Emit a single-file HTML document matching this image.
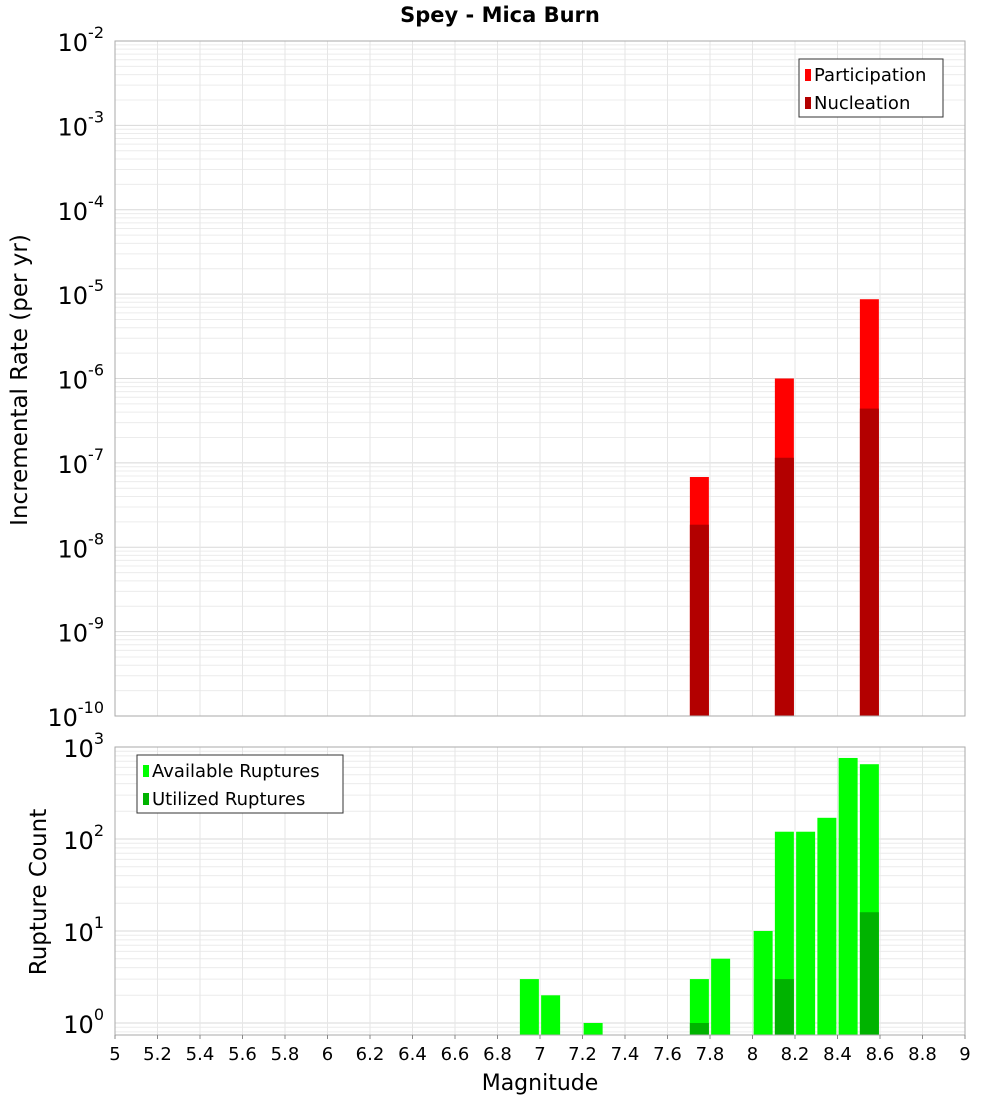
<!DOCTYPE html>
<html><head><meta charset="utf-8"><style>
body{margin:0;background:#fff;font-family:"Liberation Sans","DejaVu Sans",sans-serif}
</style></head><body>
<svg id="c" width="1000" height="1100" xmlns="http://www.w3.org/2000/svg" font-family="DejaVu Sans, Liberation Sans, sans-serif"></svg>
<script>
const bins1=[7.75,8.15,8.55];
const participation=[6.8e-8,1.0e-6,8.7e-6];
const nucleation=[1.85e-8,1.15e-7,4.4e-7];
const bins2=[6.95,7.05,7.25,7.75,7.85,8.05,8.15,8.25,8.35,8.45,8.55];
const available=[3,2,1,3,5,10,120,120,170,760,650];
const ubins=[7.75,8.15,8.55];
const utilized=[1,3,16];
const xticks=[5,5.2,5.4,5.6,5.8,6,6.2,6.4,6.6,6.8,7,7.2,7.4,7.6,7.8,8,8.2,8.4,8.6,8.8,9];

const NS="http://www.w3.org/2000/svg",svg=document.getElementById('c');
function el(t,a,p){const e=document.createElementNS(NS,t);for(const k in a)e.setAttribute(k,a[k]);(p||svg).appendChild(e);return e;}
const X0=115,X1=965;
const x=v=>X0+(v-5)/4*(X1-X0);
const y1=v=>41+(-2-Math.log10(v))*84.375;
const y2=v=>747+(3-Math.log10(v))*92;
const P1={t:41,b:716},P2={t:747,b:1035};
function frame(P,lo,hi,yf){
  const g=el('g',{});
  
  
  for(let d=lo;d<hi;d++)for(let m=1;m<10;m++){const yy=yf(m*Math.pow(10,d));if(yy<P.t||yy>P.b)continue;el('line',{x1:X0,x2:X1,y1:yy,y2:yy,stroke:m==1?'#d8d8d8':'#ececec','stroke-width':1},g);}
  xticks.forEach(t=>el('line',{x1:x(t),x2:x(t),y1:P.t,y2:P.b,stroke:'#e6e6e6'},g));
}
frame(P1,-10,-1,y1);frame(P2,-1,3,y2);
// top bars
bins1.forEach((b,i)=>{
  let r=el('rect',{x:x(b)-9.5,y:y1(participation[i]),width:19,height:P1.b-y1(participation[i]),fill:'#ff0000'});
  
  
  r=el('rect',{x:x(b)-9.5,y:y1(nucleation[i]),width:19,height:P1.b-y1(nucleation[i]),fill:'#b30000'});
  
  
});
bins2.forEach((b,i)=>{
  const yy=Math.max(P2.t,y2(available[i]));
  const r=el('rect',{x:x(b)-9.5,y:yy,width:19,height:P2.b-yy,fill:'#00ff00'});
  
  
});
ubins.forEach((b,i)=>{
  const r=el('rect',{x:x(b)-9.5,y:y2(utilized[i]),width:19,height:P2.b-y2(utilized[i]),fill:'#00b300'});
  
  
});
el('rect',{x:X0,y:P1.t,width:X1-X0,height:P1.b-P1.t,fill:'none',stroke:'#aaa'});
el('rect',{x:X0,y:P2.t,width:X1-X0,height:P2.b-P2.t,fill:'none',stroke:'#aaa'});
// y tick labels
function ylab(yy,e){const t=el('text',{x:104,y:yy+10,'text-anchor':'end','font-size':24});
  t.textContent='10';const s=el('tspan',{dy:-13,'font-size':16},t);s.textContent=e;}
for(let e=-2;e>=-10;e--)ylab(y1(Math.pow(10,e)),e);
for(let e=3;e>=0;e--)ylab(y2(Math.pow(10,e)),e);
xticks.forEach(t=>{el('line',{x1:x(t),x2:x(t),y1:P2.b,y2:P2.b+4,stroke:'#888'});
  const s=el('text',{x:x(t),y:1060,'text-anchor':'middle','font-size':18});s.textContent=t;});
let t=el('text',{x:540,y:1090,'text-anchor':'middle','font-size':22});t.textContent='Magnitude';
t=el('text',{x:500,y:22,'text-anchor':'middle','font-size':21,'font-weight':'bold'});t.textContent='Spey - Mica Burn';
t=el('text',{x:0,y:0,'text-anchor':'middle','font-size':23,transform:'translate(27,380) rotate(-90)'});t.textContent='Incremental Rate (per yr)';
t=el('text',{x:0,y:0,'text-anchor':'middle','font-size':23,transform:'translate(46,892) rotate(-90)'});t.textContent='Rupture Count';
function legend(lx,ly,w,items,nm){const g=el('g',{});
  el('rect',{x:lx,y:ly,width:w,height:58,fill:'#fff',stroke:'#333'},g);
  items.forEach((it,i)=>{el('rect',{x:lx+6,y:ly+10+i*28,width:6,height:12,fill:it[1]},g);const s=el('text',{x:lx+15,y:ly+22+i*28,'font-size':18},g);s.textContent=it[0];});}
legend(799,59,144,[['Participation','#ff0000'],['Nucleation','#b30000']],'legend-top');
legend(137,755,206,[['Available Ruptures','#00ff00'],['Utilized Ruptures','#00b300']],'legend-bottom');
</script>
</body></html>
